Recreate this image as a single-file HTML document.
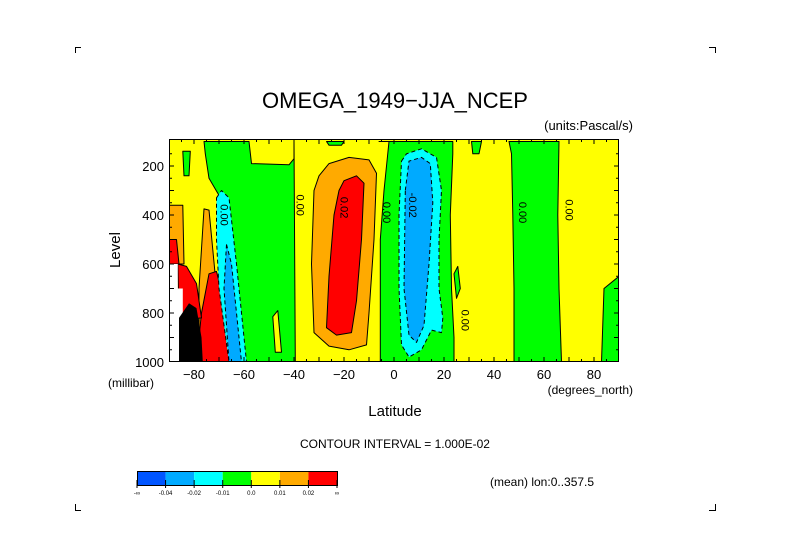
<!DOCTYPE html>
<html><head><meta charset="utf-8"><style>
html,body{margin:0;padding:0;background:#fff;}
svg{display:block;font-family:"Liberation Sans",sans-serif;}
</style></head><body>
<svg id="chart" width="789" height="558" viewBox="0 0 789 558" xmlns="http://www.w3.org/2000/svg">
<g stroke="#000" fill="none" stroke-width="1">
<path d="M75.5 53 V47.5 H81"/><path d="M709 47.5 H715.5 V53"/><path d="M75.5 504 V510.5 H81"/><path d="M709 510.5 H715.5 V504"/>
</g>
<text x="395" y="108" text-anchor="middle" font-size="22">OMEGA_1949−JJA_NCEP</text>
<text x="633" y="130" text-anchor="end" font-size="13">(units:Pascal/s)</text>
<defs><clipPath id="pc"><rect x="169" y="139" width="450" height="223"/></clipPath></defs>
<g id="plot" clip-path="url(#pc)"></g>
<g id="axes"></g>
<text x="120" y="250" font-size="15" text-anchor="middle" transform="rotate(-90 120 250)">Level</text>
<text x="108" y="387" font-size="12">(millibar)</text>
<text x="633" y="394" font-size="12" text-anchor="end">(degrees_north)</text>
<text x="395" y="416" font-size="15" text-anchor="middle">Latitude</text>
<text x="395" y="448" font-size="12" text-anchor="middle">CONTOUR INTERVAL = 1.000E-02</text>
<text x="490" y="486" font-size="12">(mean) lon:0..357.5</text>
<g id="cbar"></g>
</svg>
<script>
const levelColors = ["#0055ff","#00aaff","#00ffff","#00ff00","#ffff00","#ffaa00","#ff0000"];
const colorbarLabels = ["-∞","-0.04","-0.02","-0.01","0.0","0.01","0.02","∞"];
const xTicks = [-80,-60,-40,-20,0,20,40,60,80];
const yTicks = [200,400,600,800,1000];
// regions: [band index, polygon in (lat, level mb)]
const regionBands = [3,3,3,3,3,3,3,3,3,4,5,6,5,6,6,2,1,2,1,5,6];
const regionShapes = [
 [[-76,100],[-58,100],[-57,190],[-42,195],[-40,170],[-40,100],[-39.5,1000],[-62,1000],[-67,700],[-70,320],[-74,250],[-75.5,150]],
 [[-6,100],[-2,100],[-4,300],[-5.5,500],[-5.5,1000],[24,1000],[24,900],[23,700],[22.5,400],[23.5,150],[23.5,100]],
 [[46,100],[66,100],[65.5,400],[66,700],[67,1000],[48,1000],[48,700],[47.5,400],[47,150]],
 [[84,700],[90,650],[90,1000],[83,1000]],
 [[-84.5,140],[-81.5,140],[-82,240],[-84,240]],
 [[-83,680],[-80,680],[-80.5,735],[-83,735]],
 [[31,100],[35,100],[34,150],[31.5,150]],
 [[-27,100],[-20,100],[-21,115],[-26,115]],
 [[24,640],[25.5,610],[26.5,700],[25,740]],
 [[-48.5,815],[-46.5,790],[-45,960],[-47.5,960]],
 [[-30,240],[-26,190],[-18,165],[-10,175],[-7,230],[-8,500],[-10,800],[-11,930],[-18,950],[-26,935],[-32,880],[-33,600],[-32,300]],
 [[-20,260],[-15,240],[-12,270],[-13,500],[-15,750],[-17,880],[-23,890],[-27,860],[-26,650],[-24,400],[-22,300]],
 [[-76,375],[-74,380],[-71,700],[-68,1000],[-78,1000],[-78,700]],
 [[-74,640],[-71,630],[-67,800],[-65.5,1000],[-79,1000],[-77,800]],
 [[-86.5,600],[-83,610],[-79,680],[-77,820],[-86,830]],
 [[-71,330],[-69,300],[-66,330],[-63,600],[-59,1000],[-66,1000],[-70,700],[-71,500]],
 [[-67,520],[-65,600],[-61,1000],[-66,1000],[-68,700]],
 [[3,180],[5,150],[11,130],[17,165],[19,300],[18,500],[18,700],[19.5,820],[19,880],[15,870],[11,950],[6,980],[3,930],[2,700],[2,400]],
 [[4.5,300],[6,180],[11,165],[14.5,190],[15.5,350],[14,600],[12,850],[9,920],[6,890],[4,700]],
 [[-90,360],[-84.5,360],[-84,600],[-90,600]],
 [[-90,500],[-87,500],[-86,600],[-90,600]]
];
const whiteShape = [[-90,600],[-86.5,600],[-86.5,700],[-84.5,700],[-84.5,860],[-82.5,860],[-82.5,1000],[-90,1000]];
const blackShape = [[-86,820],[-82,760],[-79,780],[-77,900],[-76.5,1000],[-86,1000]];
const contourLabels = [["0.00",-69.5,400],["0.00",-39,360],["0.02",-21.5,370],["0.00",-4.5,390],["-0.02",6,360],["0.00",50,390],["0.00",68.5,380],["0.00",27,830]];

const X0=169,X1=619,Y0=139,Y1=362;
const xs = lat => X0 + (lat+90)/180*(X1-X0);
const ys = lev => Y1 - (1000-lev)*0.245;
const NS="http://www.w3.org/2000/svg";
const plot=document.getElementById('plot'), axes=document.getElementById('axes'), cbar=document.getElementById('cbar');
function mk(tag,attrs,parent){const e=document.createElementNS(NS,tag);for(const k in attrs)e.setAttribute(k,attrs[k]);parent.appendChild(e);return e;}
const bg=mk('rect',{x:X0,y:Y0,width:X1-X0,height:Y1-Y0,fill:levelColors[4]},plot);


const pts = s => s.map(p=>xs(p[0]).toFixed(1)+','+ys(p[1]).toFixed(1)).join(' ');
regionShapes.forEach((s,i)=>{
  const b=regionBands[i];
  const p=mk('polygon',{points:pts(s),fill:levelColors[b],stroke:'#000','stroke-width':1,'stroke-dasharray':b<3?'4,3':'none','stroke-linejoin':'round'},plot);
  
  
});
const w=mk('polygon',{points:pts(whiteShape),fill:'#fff'},plot);


const bk=mk('polygon',{points:pts(blackShape),fill:'#000'},plot);


contourLabels.forEach(c=>{
  const x=xs(c[1]), y=ys(c[2]);
  const t=mk('text',{x:x,y:y,'font-size':11,'text-anchor':'middle',transform:`rotate(90 ${x} ${y})`},plot);
  t.textContent=c[0];
  
  
});
mk('rect',{x:X0+0.5,y:Y0+0.5,width:X1-X0-1,height:Y1-Y0-1,fill:'none',stroke:'#000'},axes);
for(let lat=-85;lat<90;lat+=5){const x=xs(lat);const L=lat%10===0?5:3;
  mk('line',{x1:x,x2:x,y1:Y1,y2:Y1-L,stroke:'#000'},axes);mk('line',{x1:x,x2:x,y1:Y0,y2:Y0+L,stroke:'#000'},axes);}
for(let lev=150;lev<1000;lev+=50){const y=ys(lev);const L=lev%100===0?5:3;
  mk('line',{x1:X0,x2:X0+L,y1:y,y2:y,stroke:'#000'},axes);mk('line',{x1:X1,x2:X1-L,y1:y,y2:y,stroke:'#000'},axes);}
xTicks.forEach(v=>{const t=mk('text',{x:xs(v),y:379,'font-size':13,'text-anchor':'middle'},axes);t.textContent=v<0?'−'+(-v):v;
  
  });
yTicks.forEach(v=>{const t=mk('text',{x:164,y:ys(v)+5,'font-size':13,'text-anchor':'end'},axes);t.textContent=v;
  
  });
const cw=200/levelColors.length;
levelColors.forEach((c,i)=>{const r=mk('rect',{x:137+i*cw,y:472,width:cw,height:13,fill:c},cbar);
  
  });
mk('rect',{x:137.5,y:471.5,width:200,height:14,fill:'none',stroke:'#000'},cbar);
colorbarLabels.forEach((l,i)=>{const x=137+i*cw;mk('line',{x1:x,x2:x,y1:480,y2:488,stroke:'#000'},cbar);
  const t=mk('text',{x:x,y:495,'font-size':6,'text-anchor':'middle'},cbar);t.textContent=l;
  
  });
</script>
</body></html>
